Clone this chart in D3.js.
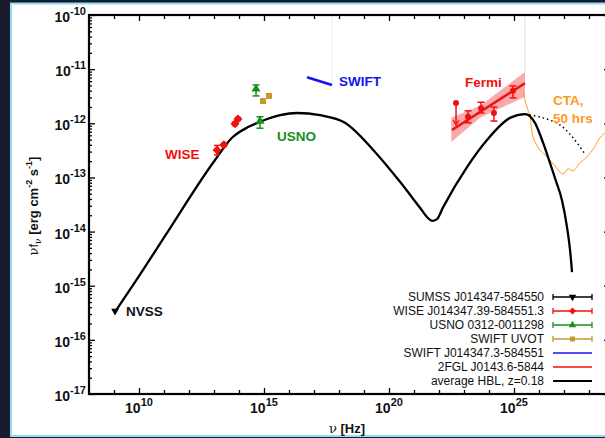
<!DOCTYPE html>
<html><head><meta charset="utf-8">
<script src="https://cdn.jsdelivr.net/npm/d3@7"></script>
<style>
html,body{margin:0;padding:0;background:#1b1b30;overflow:hidden;}
svg{display:block;}
text{font-family:"Liberation Sans",Arial,Helvetica,sans-serif;}
</style></head><body>
<svg id="chart" width="605" height="438"></svg>
<script>
// ---------------- data ----------------
const hblNu   = [1.1e9, 1e10, 1.1e11, 1.1e13, 5.25e13, 2.3e14, 8.3e14, 4.4e15, 2.1e16, 1.74e17, 1.74e18, 2.75e19, 2.75e20, 1.74e21, 3.6e21, 5.25e21, 8.3e21, 1.45e22, 1.32e23, 8.3e23, 6.9e24, 2.75e25, 6.9e25, 1.45e26, 2.75e26, 4.8e26, 8.3e26, 1.32e27, 1.74e27, 2.1e27];
const hblFlux = [3.3e-16, 1.51e-15, 8.3e-15, 2.1e-13, 5.4e-13, 8.5e-13, 1.1e-12, 1.41e-12, 1.55e-12, 1.41e-12, 1.02e-12, 2.95e-13, 8.3e-14, 2.75e-14, 1.78e-14, 1.58e-14, 1.7e-14, 2.8e-14, 1.55e-13, 4.9e-13, 1.26e-12, 1.48e-12, 1.02e-12, 4.4e-13, 1.86e-13, 8.5e-14, 3.8e-14, 1.2e-14, 4.6e-15, 1.78e-15];

const noAbsNu   = [2.75e25, 1.45e26, 6.9e26, 2.3e27, 6.9e27];
const noAbsFlux = [1.48e-12, 1.26e-12, 9.3e-13, 5.4e-13, 2.7e-13];

const ctaNu   = [2.3e25, 3.3e25, 4.4e25, 5.75e25, 1.1e26, 2.1e26, 4.4e26, 9.1e26, 1.45e27, 2.3e27, 4.4e27, 8.3e27, 1.58e28, 2.75e28, 4.8e28];
const ctaFlux = [3.6e-12, 2.0e-12, 1.32e-12, 5.6e-13, 3.2e-13, 2.4e-13, 1.62e-13, 1.15e-13, 1.44e-13, 1.32e-13, 1.86e-13, 2.4e-13, 3.5e-13, 5.4e-13, 6.9e-13];

const fermiNu   = [1.45e23, 4.8e23, 1.58e24, 9.1e24];
const fermiFlux = [1.32e-12, 1.9e-12, 1.55e-12, 4.0e-12];
const fermiHi   = [1.7e-12, 2.45e-12, 2.0e-12, 4.9e-12];
const fermiLo   = [1.02e-12, 1.55e-12, 1.1e-12, 2.95e-12];
const fermiUlNu   = [4.8e22];
const fermiUlFlux = [2.36e-12];
const bowNu   = [3.1e22, 4.4e23, 2.75e25];
const bowLo   = [4.5e-13, 1.26e-12, 3.1e-12];
const bowHi   = [1.26e-12, 2.1e-12, 8.9e-12];
const fitNu   = [3.3e22, 2.75e25];
const fitFlux = [7.5e-13, 5.5e-12];

const wiseNu   = [1.32e13, 2.5e13, 6.9e13, 9.1e13];
const wiseFlux = [3.2e-13, 4.0e-13, 9.8e-13, 1.2e-12];
const wiseHi   = [3.9e-13, 4.3e-13, 1.05e-12, 1.28e-12];
const wiseLo   = [2.6e-13, 3.7e-13, 9.1e-13, 1.12e-12];

const usnoNu   = [4.8e14, 6.9e14];
const usnoFlux = [4.3e-12, 1.1e-12];
const usnoHi   = [5.1e-12, 1.32e-12];
const usnoLo   = [3.2e-12, 8.1e-13];

const uvotNu   = [9.1e14, 1.58e15];
const uvotFlux = [2.57e-12, 3.2e-12];

const xrtNu   = [5.25e16, 5.25e17];
const xrtFlux = [7.1e-12, 5.1e-12];

const nvssNu   = [1.1e9];
const nvssFlux = [3.4e-16];

const xTickExp = [10, 15, 20, 25];
const yTickExp = [-10, -11, -12, -13, -14, -15, -16, -17];

const legendLabels = ["SUMSS J014347-584550", "WISE J014347.39-584551.3", "USNO 0312-0011298", "SWIFT UVOT", "SWIFT J014347.3-584551", "2FGL J0143.6-5844", "average HBL, z=0.18"];

// ---------------- layout ----------------
const C = {red:"#f01010", green:"#17901a", gold:"#c4982c", blue:"#1414ee", orange:"#ff9a1e", band:"#f8a2a2"};
const svg = d3.select("#chart");
svg.append("rect").attr("x",0).attr("y",0).attr("width",605).attr("height",438).attr("fill","#1b1b30");
svg.append("rect").attr("x",11).attr("y",3.5).attr("width",600).attr("height",432.5).attr("fill","#fff").attr("stroke","#8fe0f2").attr("stroke-width",2);

const L = 89, R = 610, T = 15, B = 394;
const x = d3.scaleLog().domain([1e8, Math.pow(10, 8 + (R - L) / 25)]).range([L, R]);
const y = d3.scaleLog().domain([1e-17, 1e-10]).range([B, T]);

const g = svg.append("g");
const plot = g.append("g");
plot.append("clipPath").attr("id","clip").append("rect").attr("x",L).attr("y",T).attr("width",R-L).attr("height",B-T);
const P = plot.append("g").attr("clip-path","url(#clip)");

// faint vertical lines
P.append("line").attr("x1",x(xrtNu[1])).attr("x2",x(xrtNu[1])).attr("y1",T).attr("y2",y(xrtFlux[1])).attr("stroke","#eeeeee").attr("stroke-width",1);
P.append("line").attr("x1",x(bowNu[2])).attr("x2",x(bowNu[2])).attr("y1",T).attr("y2",y(bowHi[2])).attr("stroke","#f6d8d8").attr("stroke-width",1);

// fermi butterfly
const bowData = bowNu.map((n,i)=>({n, lo:bowLo[i], hi:bowHi[i]}));
P.append("path").datum(bowData)
  .attr("d", d3.area().x(d=>x(d.n)).y0(d=>y(d.lo)).y1(d=>y(d.hi)))
  .attr("fill", C.band).attr("opacity",0.9);
P.append("path").datum(fitNu.map((n,i)=>[n,fitFlux[i]]))
  .attr("d", d3.line().x(d=>x(d[0])).y(d=>y(d[1])))
  .attr("stroke", C.red).attr("stroke-width",2.5).attr("fill","none");

// CTA sensitivity
P.append("path").datum(ctaNu.map((n,i)=>[n,ctaFlux[i]]))
  .attr("d", d3.line().curve(d3.curveCatmullRom).x(d=>x(d[0])).y(d=>y(d[1])))
  .attr("stroke", C.orange).attr("stroke-width",1).attr("fill","none");

// HBL model
P.append("path").datum(hblNu.map((n,i)=>[n,hblFlux[i]]))
  .attr("d", d3.line().curve(d3.curveMonotoneX).x(d=>x(d[0])).y(d=>y(d[1])))
  .attr("stroke","#000").attr("stroke-width",2.3).attr("fill","none");
P.append("path").datum(noAbsNu.map((n,i)=>[n,noAbsFlux[i]]))
  .attr("d", d3.line().curve(d3.curveCatmullRom).x(d=>x(d[0])).y(d=>y(d[1])))
  .attr("stroke","#000").attr("stroke-width",1.5).attr("stroke-dasharray","1.5,3").attr("fill","none");

// SWIFT XRT
P.append("path").datum(xrtNu.map((n,i)=>[n,xrtFlux[i]]))
  .attr("d", d3.line().x(d=>x(d[0])).y(d=>y(d[1])))
  .attr("stroke", C.blue).attr("stroke-width",2.5).attr("fill","none");

function errbars(nu, hi, lo, color, cap) {
  nu.forEach((n,i)=>{
    const xx = x(n);
    P.append("line").attr("x1",xx).attr("x2",xx).attr("y1",y(hi[i])).attr("y2",y(lo[i])).attr("stroke",color).attr("stroke-width",1.5);
    [hi[i], lo[i]].forEach(v=>P.append("line").attr("x1",xx-cap).attr("x2",xx+cap).attr("y1",y(v)).attr("y2",y(v)).attr("stroke",color).attr("stroke-width",1.5));
  });
}

// WISE
errbars(wiseNu, wiseHi, wiseLo, C.red, 3);
P.selectAll(".wise").data(wiseNu).enter().append("path")
  .attr("transform",(d,i)=>`translate(${x(d)},${y(wiseFlux[i])})`)
  .attr("d", d3.symbol(d3.symbolDiamond2, 52)).attr("fill", C.red);

// USNO
errbars(usnoNu, usnoHi, usnoLo, C.green, 3.5);
P.selectAll(".usno").data(usnoNu).enter().append("path")
  .attr("transform",(d,i)=>`translate(${x(d)},${y(usnoFlux[i])})`)
  .attr("d", d3.symbol(d3.symbolTriangle, 36)).attr("fill", C.green);

// UVOT
P.selectAll(".uvot").data(uvotNu).enter().append("rect")
  .attr("x",d=>x(d)-3).attr("y",(d,i)=>y(uvotFlux[i])-3).attr("width",6).attr("height",6)
  .attr("fill", C.gold);

// Fermi
errbars(fermiNu, fermiHi, fermiLo, C.red, 3.5);
P.selectAll(".fermi").data(fermiNu).enter().append("circle")
  .attr("cx",d=>x(d)).attr("cy",(d,i)=>y(fermiFlux[i])).attr("r",3).attr("fill",C.red);
fermiUlNu.forEach((n,i)=>{
  const xx = x(n), yy = y(fermiUlFlux[i]);
  P.append("line").attr("x1",xx).attr("x2",xx).attr("y1",yy).attr("y2",yy+22).attr("stroke",C.red).attr("stroke-width",1.5);
  P.append("path").attr("d",`M${xx-3},${yy+17}L${xx},${yy+22}L${xx+3},${yy+17}`).attr("stroke",C.red).attr("fill","none").attr("stroke-width",1.2);
  P.append("circle").attr("cx",xx).attr("cy",yy).attr("r",3).attr("fill",C.red);
});

// NVSS
nvssNu.forEach((n,i)=>{
  P.append("path").attr("transform",`translate(${x(n)},${y(nvssFlux[i])}) rotate(180)`)
    .attr("d", d3.symbol(d3.symbolTriangle, 26)).attr("fill","#000");
});

// ---------------- axes ----------------
const decadesX = d3.range(9, 29).map(e=>Math.pow(10,e));
const majorX = decadesX.filter(v=>xTickExp.includes(Math.round(Math.log10(v))));
const minorX = decadesX.filter(v=>!xTickExp.includes(Math.round(Math.log10(v))));
const decY = yTickExp.map(e=>Math.pow(10,e));
const minorY = [];
d3.range(-17,-10).forEach(e=>{ for(let k=2;k<10;k++) minorY.push(k*Math.pow(10,e)); });

function styleAxis(sel){ sel.select(".domain").remove(); sel.selectAll("line").attr("stroke","#000").attr("stroke-width",1.3); sel.selectAll("text").remove(); }
g.append("g").attr("transform",`translate(0,${B})`).call(d3.axisBottom(x).tickValues(majorX).tickSize(-6)).call(styleAxis);
g.append("g").attr("transform",`translate(0,${B})`).call(d3.axisBottom(x).tickValues(minorX).tickSize(-4)).call(styleAxis);
g.append("g").attr("transform",`translate(0,${T})`).call(d3.axisTop(x).tickValues(majorX).tickSize(-6)).call(styleAxis);
g.append("g").attr("transform",`translate(0,${T})`).call(d3.axisTop(x).tickValues(minorX).tickSize(-4)).call(styleAxis);
g.append("g").attr("transform",`translate(${L},0)`).call(d3.axisLeft(y).tickValues(decY).tickSize(-6)).call(styleAxis);
g.append("g").attr("transform",`translate(${L},0)`).call(d3.axisLeft(y).tickValues(minorY).tickSize(-3)).call(styleAxis);
g.append("g").attr("transform",`translate(${R},0)`).call(d3.axisRight(y).tickValues(decY).tickSize(-6)).call(styleAxis);
g.append("g").attr("transform",`translate(${R},0)`).call(d3.axisRight(y).tickValues(minorY).tickSize(-3)).call(styleAxis);
g.append("rect").attr("x",L).attr("y",T).attr("width",R-L).attr("height",B-T).attr("fill","none").attr("stroke","#000").attr("stroke-width",2.2);

// tick labels
xTickExp.forEach(e=>{
  const t = g.append("text").attr("x", x(Math.pow(10,e))).attr("y", 413).attr("text-anchor","middle")
    .attr("font-weight","bold").attr("font-size",14).attr("fill","#111");
  t.append("tspan").text("10");
  t.append("tspan").attr("dy",-7).attr("font-size",11).text(e);
});
yTickExp.forEach(e=>{
  const t = g.append("text").attr("x", 86).attr("y", y(Math.pow(10,e))+7).attr("text-anchor","end")
    .attr("font-weight","bold").attr("font-size",14).attr("fill","#111");
  t.append("tspan").text("10");
  t.append("tspan").attr("dy",-7).attr("font-size",11).text("-" + (-e));
});

// axis titles
const xt = g.append("text").attr("x",347).attr("y",433).attr("text-anchor","middle").attr("font-weight","bold").attr("font-size",13).attr("fill","#111");
xt.append("tspan").attr("font-weight","normal").attr("font-family","DejaVu Serif, serif").text("ν");
xt.append("tspan").text(" [Hz]");
const yt = g.append("text").attr("transform","translate(38,206) rotate(-90)").attr("text-anchor","middle").attr("font-weight","bold").attr("font-size",13).attr("fill","#111");
yt.append("tspan").attr("font-weight","normal").attr("font-family","DejaVu Serif, serif").text("ν");
yt.append("tspan").attr("font-weight","normal").text("f");
yt.append("tspan").attr("dy",3).attr("font-size",9).attr("font-weight","normal").attr("font-family","DejaVu Serif, serif").text("ν");
yt.append("tspan").attr("dy",-3).text(" [erg cm");
yt.append("tspan").attr("dy",-6).attr("font-size",9).text("-2");
yt.append("tspan").attr("dy",6).text(" s");
yt.append("tspan").attr("dy",-6).attr("font-size",9).text("-1");
yt.append("tspan").attr("dy",6).text("]");

// annotations
function ann(txt, xx, yy, color){ g.append("text").attr("x",xx).attr("y",yy).attr("font-weight","bold").attr("font-size",13.5).attr("fill",color).text(txt); }
ann("NVSS", 126, 316, "#111");
ann("WISE", 165, 159, C.red);
ann("USNO", 277, 141, C.green);
ann("SWIFT", 339, 86, C.blue);
ann("Fermi", 465, 87, C.red);
ann("CTA,", 553, 105, C.orange);
ann("50 hrs", 553, 123, C.orange);

// legend
const legY0 = 297, legDy = 14, tx = 544, s0 = 553, s1 = 592;
const legColors = ["#000", C.red, C.green, C.gold, C.blue, C.red, "#000"];
legendLabels.forEach((lab,i)=>{
  const yy = legY0 + i*legDy;
  g.append("text").attr("x",tx).attr("y",yy+4).attr("text-anchor","end").attr("font-size",12).attr("fill","#111").text(lab);
  const col = legColors[i];
  g.append("line").attr("x1",s0).attr("x2",s1).attr("y1",yy).attr("y2",yy).attr("stroke",col).attr("stroke-width", i===6?2.2:1.3);
  if (i < 4) {
    [s0, s1].forEach(xx=>g.append("line").attr("x1",xx).attr("x2",xx).attr("y1",yy-3).attr("y2",yy+3).attr("stroke",col).attr("stroke-width",1.3));
    const cx = (s0+s1)/2;
    if (i===0) g.append("path").attr("transform",`translate(${cx},${yy}) rotate(180)`).attr("d",d3.symbol(d3.symbolTriangle,24)).attr("fill",col);
    if (i===1) g.append("path").attr("transform",`translate(${cx},${yy})`).attr("d",d3.symbol(d3.symbolDiamond2,30)).attr("fill",col);
    if (i===2) g.append("path").attr("transform",`translate(${cx},${yy})`).attr("d",d3.symbol(d3.symbolTriangle,24)).attr("fill",col);
    if (i===3) g.append("rect").attr("x",cx-2.5).attr("y",yy-2.5).attr("width",5).attr("height",5).attr("fill",col);
  }
});
</script>
</body></html>
